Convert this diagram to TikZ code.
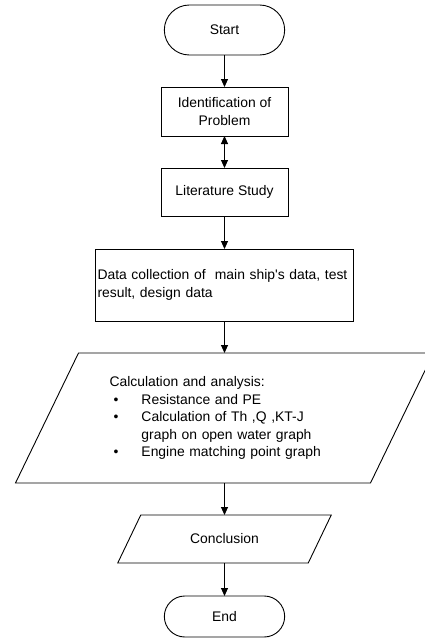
\documentclass[tikz,border=0pt]{standalone}
\usepackage{fontspec}
\setmainfont{Liberation Sans}
\usepackage{tikz}
\usetikzlibrary{shapes,arrows.meta,positioning}

\newcommand\slantbox[2]{%
	\draw[line width = 0.9pt] ([xshift=-#2]#1.south west) -- ([xshift=#2]#1.north west)
		-- ([xshift=#2]#1.north east) -- ([xshift=-#2]#1.south east) -- cycle;}

\begin{document}
\begin{tikzpicture}[
			x = 1pt, y = -1pt,
			node distance = 32pt,
			every node/.style = {draw, line width = 0.9pt, outer sep = 0pt, font = \fontsize{13.9}{17.5}\selectfont},
			terminal/.style = {rounded rectangle, minimum width = 127pt, minimum height = 50pt},
			process/.style = {rectangle, minimum width = 127pt, minimum height = 49pt, align = center},
			inout/.style = {rectangle, draw = none, align = left},
			arr/.style = {-{Triangle[length = 8pt, width = 7pt]}, line width = 0.9pt},
			]

			\def\bul{\makebox[32pt][l]{\hspace{4pt}\textbullet}}

			\useasboundingbox (0,0) rectangle (425,638);

			\node[terminal] (start) at (224.5,30) {Start};
			\node[process, below = of start] (ident) {Identification of\\Problem};
			\node[process, below = of ident, minimum height = 48pt] (lit) {Literature Study};
			\node[process, below = 33pt of lit, minimum width = 258pt, minimum height = 72pt, text width = 254pt, inner xsep = 2pt, align = left] (data)
				{Data collection of\ \ main ship\textquotesingle s data, test\\result, design data};
			\node[inout, below = of data, minimum width = 355pt, minimum height = 130pt, text width = 230pt, inner sep = 0pt] (calc)
				{Calculation and analysis:\\
				\bul Resistance and PE\\
				\bul Calculation of Th ,Q ,KT-J\\
				\hspace*{32pt}graph on open water graph\\
				\bul Engine matching point graph};
			\node[inout, below = of calc, minimum width = 190.5pt, minimum height = 48pt, align = center] (concl) {Conclusion};
			\node[terminal, below = 33pt of concl, minimum height = 41pt] (stop) {End};

			\slantbox{calc}{31.5pt}
			\slantbox{concl}{11.5pt}

			\draw[arr] (start) -- (ident);
			\draw[arr, {Triangle[length = 8pt, width = 7pt]}-{Triangle[length = 8pt, width = 7pt]}] (ident) -- (lit);
			\draw[arr] (lit) -- (data);
			\draw[arr] (data) -- (calc);
			\draw[arr] (calc) -- (concl);
			\draw[arr] (concl) -- (stop);

		\end{tikzpicture}
\end{document}
